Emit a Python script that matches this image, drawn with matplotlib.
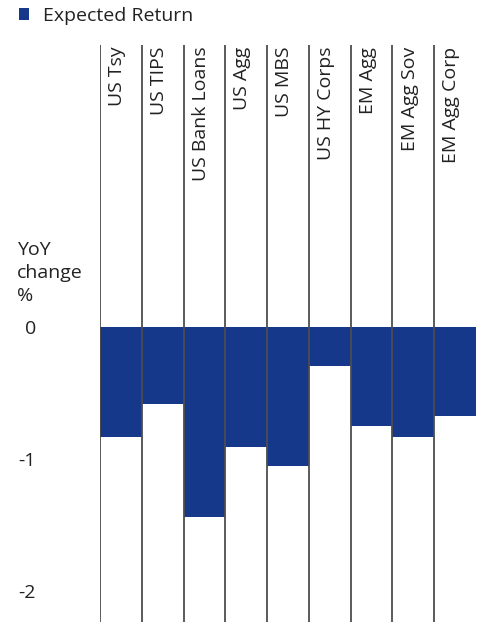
import matplotlib.pyplot as plt

categories = ['US Tsy', 'US TIPS', 'US Bank Loans', 'US Agg', 'US MBS',
              'US HY Corps', 'EM Agg', 'EM Agg Sov', 'EM Agg Corp']
expected_return = [-0.83, -0.58, -1.44, -0.91, -1.05, -0.29, -0.75, -0.83, -0.67]
yticks = [0, -1, -2]
ytick_labels = ['0', '-1', '-2']

plt.rcParams['font.family'] = ['Open Sans', 'DejaVu Sans']
plt.rcParams['font.size'] = 14
navy = '#16388a'
txt = '#222222'

W, H = 482, 622
fig = plt.figure(figsize=(W / 100, H / 100), dpi=100)
ax = fig.add_axes([100 / W, 0, 376 / W, (H - 45) / H])

x = range(len(categories))
ax.bar(x, expected_return, width=1.0, align='edge', color=navy,
       label='Expected Return', zorder=2)

# column dividers run over the bars
for i in x:
    ax.axvline(i, color='#4d4d4d', lw=1.3, zorder=3)

zero_px, unit_px = 327.5, 131.5
ax.set_ylim(-(H - zero_px) / unit_px, (zero_px - 45) / unit_px)
ax.set_xlim(0, len(categories))

for i, name in enumerate(categories):
    ax.text(i + 0.41, 0.997, name, transform=ax.get_xaxis_transform(),
            rotation=90, ha='center', va='top', color=txt)

ax.set_xticks([])
ax.set_yticks(yticks)
ax.set_yticklabels(ytick_labels, color=txt)
ax.tick_params(axis='y', length=0, pad=46)
for s in ax.spines.values():
    s.set_visible(False)

fig.text(17 / W, 1 - 241 / H, 'YoY\nchange\n%', ha='left', va='top',
         color=txt, linespacing=1.37)

fig.legend(loc='upper left', bbox_to_anchor=(19 / W, 1 - 7 / H),
           frameon=False, borderpad=0, borderaxespad=0,
           handlelength=0.52, handleheight=0.52, handletextpad=0.72,
           fontsize=14, labelcolor=txt)

fig.savefig('out.png', dpi=100)
